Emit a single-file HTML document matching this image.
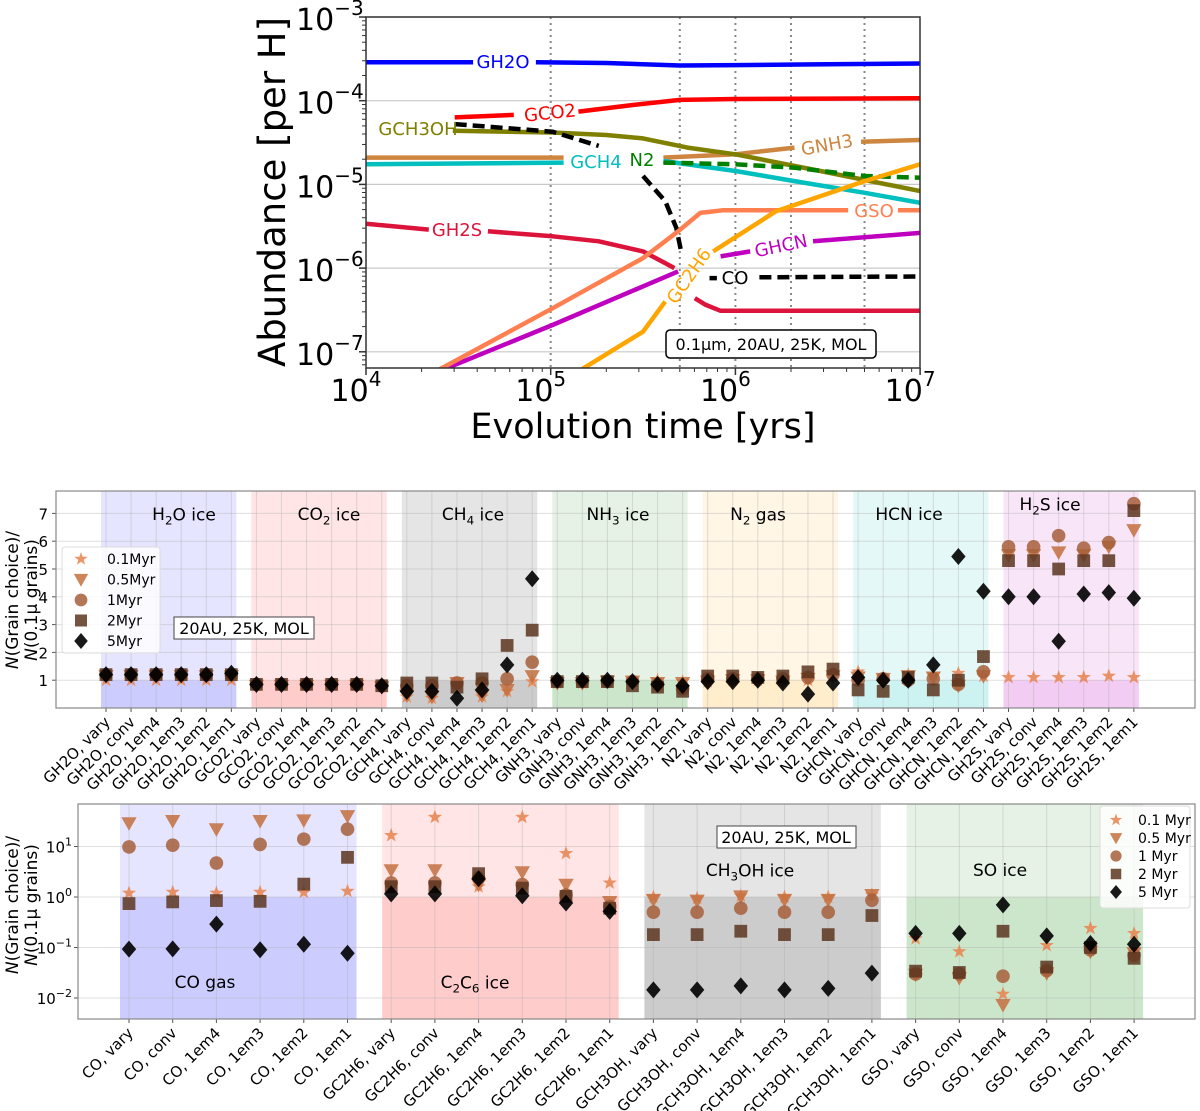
<!DOCTYPE html>
<html><head><meta charset="utf-8"><title>Grain size abundance comparison</title>
<style>
html,body{margin:0;padding:0;background:#fff;}
svg{display:block;font-family:"DejaVu Sans","Liberation Sans",sans-serif;}
</style></head>
<body>
<svg id="fig" width="1200" height="1111" viewBox="0 0 1200 1111" xmlns="http://www.w3.org/2000/svg"></svg>
<script>
// ---------------- TOP CHART DATA (log10 time, log10 abundance; null = label gap) ----------------
const topGH2O = [[4,-3.54],[4.58,-3.54],null,[4.92,-3.54],[5.3,-3.55],[5.7,-3.58],[6,-3.575],[6.5,-3.565],[7,-3.555]];
const topGCO2 = [[4.48,-4.2],[4.8,-4.17],null,[5.15,-4.13],[5.45,-4.05],[5.7,-3.99],[6,-3.98],[6.5,-3.975],[7,-3.97]];
const topGCH3OH = [[4.47,-4.36],[5.01,-4.38],[5.3,-4.41],[5.5,-4.45],[5.74,-4.56],[6,-4.64],[6.46,-4.84],[7,-5.08]];
const topCO = [[4.48,-4.28],[5.01,-4.37],[5.26,-4.54],null,[5.5,-4.9],[5.62,-5.2],[5.68,-5.52],[5.71,-5.84],null,[5.86,-6.12],[5.9,-6.12],null,[6.13,-6.11],[6.5,-6.105],[7,-6.1]];
const topGNH3 = [[4,-4.68],[5.07,-4.68],null,[5.61,-4.68],[6,-4.64],[6.32,-4.56],null,[6.68,-4.49],[7,-4.47]];
const topGCH4 = [[4,-4.76],[5.07,-4.74],null,[5.61,-4.72],[6,-4.84],[6.32,-4.96],[6.7,-5.1],[7,-5.22]];
const topN2 = [[5.61,-4.74],[6,-4.76],[6.32,-4.8],[6.7,-4.9],[7,-4.92]];
const topGSO = [[4.39,-7.22],[5.01,-6.48],[5.5,-5.88],[5.69,-5.56],[5.81,-5.34],[5.93,-5.31],[6.61,-5.31],null,[6.88,-5.31],[7,-5.31]];
const topGHCN = [[4.41,-7.22],[5.01,-6.68],[5.69,-6.04],null,[5.92,-5.86],[6.08,-5.8],null,[6.42,-5.68],[7,-5.58]];
const topGC2H6 = [[5.16,-7.22],[5.5,-6.76],[5.62,-6.4],null,[5.88,-5.8],[6.22,-5.32],[6.7,-4.96],[7,-4.76]];
const topGH2S = [[4,-5.47],[4.34,-5.54],null,[4.66,-5.56],[5.01,-5.62],[5.26,-5.68],[5.5,-5.8],[5.62,-5.94],[5.67,-6.0],null,[5.78,-6.36],[5.84,-6.44],[5.92,-6.51],[7,-6.51]];
const topVLines = [5, 5.699, 6, 6.301, 6.699];

// ---------------- MIDDLE CHART DATA ----------------
const midCats = ["GH2O, vary","GH2O, conv","GH2O, 1em4","GH2O, 1em3","GH2O, 1em2","GH2O, 1em1",
"GCO2, vary","GCO2, conv","GCO2, 1em4","GCO2, 1em3","GCO2, 1em2","GCO2, 1em1",
"GCH4, vary","GCH4, conv","GCH4, 1em4","GCH4, 1em3","GCH4, 1em2","GCH4, 1em1",
"GNH3, vary","GNH3, conv","GNH3, 1em4","GNH3, 1em3","GNH3, 1em2","GNH3, 1em1",
"N2, vary","N2, conv","N2, 1em4","N2, 1em3","N2, 1em2","N2, 1em1",
"GHCN, vary","GHCN, conv","GHCN, 1em4","GHCN, 1em3","GHCN, 1em2","GHCN, 1em1",
"GH2S, vary","GH2S, conv","GH2S, 1em4","GH2S, 1em3","GH2S, 1em2","GH2S, 1em1"];
const midStar = [1,1,1,1,1,1, .85,.85,.85,.85,.85,.8, .4,.35,.8,.4,.6,.95, .9,.9,.95,1.0,1.0,.95, .95,1.0,1.0,1.0,1.0,1.2, 1.3,1.1,1.2,1.2,1.25,1.15, 1.1,1.1,1.1,1.1,1.15,1.1];
const midTri = [1.15,1.15,1.15,1.15,1.15,1.15, .8,.8,.8,.8,.8,.75, .45,.4,.9,.45,.65,1.15, .9,.9,.95,.95,.9,.9, .95,1.0,1.0,.95,1.05,1.15, 1.1,1.05,1.15,1.1,.8,1.15, 5.5,5.5,5.6,5.5,5.8,6.4];
const midCirc = [1.2,1.2,1.2,1.2,1.2,1.2, .85,.85,.85,.85,.85,.8, .8,.8,.9,.9,1.05,1.65, .95,.95,.95,.95,.85,.7, 1.05,1.05,1.05,1.05,1.1,1.2, 1.0,1.05,1.0,1.05,.85,1.3, 5.8,5.8,6.2,5.75,5.95,7.35];
const midSq = [1.2,1.2,1.2,1.2,1.2,1.2, .85,.85,.85,.85,.85,.8, .9,.9,.75,1.05,2.25,2.8, .95,.95,.95,.8,.75,.6, 1.15,1.15,1.1,1.15,1.3,1.4, .65,.6,1.1,.65,1.0,1.85, 5.3,5.3,5.0,5.3,5.3,7.1];
const midDia = [1.2,1.2,1.2,1.2,1.2,1.25, .85,.85,.85,.85,.85,.8, .6,.6,.35,.65,1.55,4.65, 1.0,1.0,1.0,.95,.85,.8, .95,.95,1.0,.9,.5,.9, 1.1,1.0,1.0,1.55,5.45,4.2, 4.0,4.0,2.4,4.1,4.15,3.95];
const midTicks = [1,2,3,4,5,6,7];
const midLegend = ["0.1Myr","0.5Myr","1Myr","2Myr","5Myr"];

// ---------------- BOTTOM CHART DATA ----------------
const botCats = ["CO, vary","CO, conv","CO, 1em4","CO, 1em3","CO, 1em2","CO, 1em1",
"GC2H6, vary","GC2H6, conv","GC2H6, 1em4","GC2H6, 1em3","GC2H6, 1em2","GC2H6, 1em1",
"GCH3OH, vary","GCH3OH, conv","GCH3OH, 1em4","GCH3OH, 1em3","GCH3OH, 1em2","GCH3OH, 1em1",
"GSO, vary","GSO, conv","GSO, 1em4","GSO, 1em3","GSO, 1em2","GSO, 1em1"];
const botStar = [1.2,1.25,1.2,1.25,1.24,1.3, 16.6,38,1.6,38,7.3,1.9, 1.0,0.95,1.05,1.0,1.0,1.1, 0.15,0.083,0.012,0.11,0.24,0.19];
const botTri = [29,32,22,32,33,40, 3.4,3.4,1.75,3.1,1.75,0.8, 0.88,0.85,1.03,0.88,0.88,1.1, 0.029,0.025,0.0073,0.031,0.083,0.077];
const botCirc = [9.8,10.6,4.7,11,14,22, 1.9,1.9,2.4,1.76,1.1,0.65, 0.5,0.5,0.6,0.5,0.5,0.86, 0.03,0.03,0.027,0.035,0.09,0.07];
const botSq = [0.74,0.8,0.85,0.82,1.8,6.1, 1.6,1.6,2.9,1.5,1.03,0.6, 0.18,0.18,0.21,0.18,0.18,0.43, 0.034,0.032,0.21,0.041,0.1,0.061];
const botDia = [0.093,0.094,0.29,0.09,0.116,0.077, 1.15,1.15,2.3,1.06,0.76,0.52, 0.0145,0.0145,0.0174,0.0145,0.0155,0.031, 0.19,0.19,0.7,0.17,0.12,0.116];
const botTicks = [1,0,-1,-2];
const botLegend = ["0.1 Myr","0.5 Myr","1 Myr","2 Myr","5 Myr"];

const NS = "http://www.w3.org/2000/svg";
const svg = document.getElementById("fig");
function mk(tag, attrs, parent) {
  const e = document.createElementNS(NS, tag);
  for (const k in attrs) e.setAttribute(k, attrs[k]);
  (parent || svg).appendChild(e);
  return e;
}
function txt(parent, x, y, s, size, anchor, fill, extra) {
  const t = mk("text", Object.assign({x:x, y:y, "font-size":size, "text-anchor":anchor||"start", fill:fill||"#000"}, extra||{}), parent);
  t.textContent = s;
  return t;
}
function sup(t, s, size) {
  const ts = mk("tspan", {"font-size":size, dy:-size*0.75}, t);
  ts.textContent = s;
}

// ================= TOP CHART =================
const TX0 = 366, TDEC = 184.7, TY0 = 17, TYD = 83.7;
const tx = lt => TX0 + (lt - 4) * TDEC;
const ty = la => TY0 + (-3 - la) * TYD;
const TBOT = 368, TRIGHT = 920;
const topG = mk("g", {});


const clipT = mk("clipPath", {id:"clipTop"});
mk("rect", {x:TX0, y:TY0, width:TRIGHT-TX0, height:TBOT-TY0}, clipT);
for (let d = -3; d >= -7; d--) {
  const gl = mk("line", {x1:TX0, x2:TRIGHT, y1:ty(d), y2:ty(d), stroke:"#c8c8c8", "stroke-width":1.2}, topG);
  
  
}
topVLines.forEach(v => {
  const l = mk("line", {x1:tx(v), x2:tx(v), y1:TY0, y2:TBOT, stroke:"#888", "stroke-width":2, "stroke-dasharray":"2,4"}, topG);
  
  
});
const curves = [
  [topGH2O, "#0000ff", null, "gh2o-curve"],
  [topGCO2, "#ff0000", null, "gco2-curve"],
  [topGNH3, "#cd853f", null, "gnh3-curve"],
  [topGCH4, "#00bfbf", null, "gch4-curve"],
  [topGCH3OH, "#808000", null, "gch3oh-curve"],
  [topN2, "#008000", "12,6", "n2-curve"],
  [topCO, "#000000", "12,6", "co-curve"],
  [topGH2S, "#dc143c", null, "gh2s-curve"],
  [topGHCN, "#bf00bf", null, "ghcn-curve"],
  [topGSO, "#ff7f50", null, "gso-curve"],
  [topGC2H6, "#ffa500", null, "gc2h6-curve"]
];
curves.forEach(c => {
  let d = "", start = true;
  c[0].forEach(p => {
    if (p === null) { start = true; return; }
    d += (start ? "M" : "L") + tx(p[0]).toFixed(1) + "," + ty(p[1]).toFixed(1);
    start = false;
  });
  const a = {d:d, fill:"none", stroke:c[1], "stroke-width":4.5, "clip-path":"url(#clipTop)", "stroke-linejoin":"round"};
  if (c[2]) a["stroke-dasharray"] = c[2];
  const p = mk("path", a, topG);
  
  
});
const curveLabels = [
  ["GH2O", 503, 68, "#0000ff", 0, "gh2o-label"],
  ["GCO2", 550, 119, "#ff0000", -6, "gco2-label"],
  ["GCH3OH", 418, 135, "#808000", 0, "gch3oh-label"],
  ["GCH4", 596, 168, "#00bfbf", 0, "gch4-label"],
  ["N2", 642, 166, "#008000", 0, "n2-label"],
  ["GNH3", 827, 151, "#cd853f", -10, "gnh3-label"],
  ["GSO", 874, 217, "#ff7f50", 0, "gso-label"],
  ["GHCN", 781, 252, "#bf00bf", -12, "ghcn-label"],
  ["GC2H6", 689, 282, "#ffa500", -55, "gc2h6-label"],
  ["CO", 735, 284, "#000", 0, "co-label"],
  ["GH2S", 457, 236, "#dc143c", 0, "gh2s-label"]
];
curveLabels.forEach(l => {
  const t = txt(topG, l[1], l[2], l[0], 18, "middle", l[3], {transform:"rotate(" + l[4] + " " + l[1] + " " + (l[2]-6) + ")"});
  
  
});
const ib = mk("rect", {x:666, y:330, width:210, height:28, rx:4, fill:"#fff", stroke:"#000", "stroke-width":1.5}, topG);


const ibt = txt(topG, 771, 350, "0.1μm, 20AU, 25K, MOL", 16, "middle");


mk("rect", {x:TX0, y:TY0, width:TRIGHT-TX0, height:TBOT-TY0, fill:"none", stroke:"#333", "stroke-width":1.5}, topG);
for (let d = -3; d >= -7; d--) {
  mk("line", {x1:TX0-7, x2:TX0, y1:ty(d), y2:ty(d), stroke:"#333", "stroke-width":1.5}, topG);
  const t = txt(topG, 296, ty(d)+13, "10", 30, "start");
  sup(t, "−" + (-d), 20);
  
  
  for (let m = 2; m <= 9; m++) {
    const yy = ty(d - 1 + Math.log10(m));
    if (yy < TBOT) mk("line", {x1:TX0-4, x2:TX0, y1:yy, y2:yy, stroke:"#333", "stroke-width":1}, topG);
  }
}
for (let e = 4; e <= 7; e++) {
  mk("line", {x1:tx(e), x2:tx(e), y1:TBOT, y2:TBOT+7, stroke:"#333", "stroke-width":1.5}, topG);
  const t = txt(topG, tx(e)-10, TBOT+33, "10", 30, "middle");
  sup(t, String(e), 20);
  
  
  if (e < 7) for (let m = 2; m <= 9; m++) {
    const xx = tx(e + Math.log10(m));
    mk("line", {x1:xx, x2:xx, y1:TBOT, y2:TBOT+4, stroke:"#333", "stroke-width":1}, topG);
  }
}
const ytt = txt(topG, 285, 192, "Abundance [per H]", 37, "middle", "#000", {transform:"rotate(-90 285 192)"});


const xtt = txt(topG, 643, 438, "Evolution time [yrs]", 35, "middle");



// ================= MARKERS =================
const mColors = ["#e8834e", "#c4703f", "#a65f3b", "#5c3520", "#000000"];
function marker(g, type, x, y, s, color) {
  let e;
  if (type === 0) {
    let d = "";
    for (let i = 0; i < 10; i++) {
      const r = i % 2 ? s*0.4 : s;
      const a = -Math.PI/2 + i*Math.PI/5;
      d += (i ? "L" : "M") + (x + r*Math.cos(a)).toFixed(1) + "," + (y + r*Math.sin(a)).toFixed(1);
    }
    e = mk("path", {d:d+"Z", fill:color, opacity:0.85}, g);
  } else if (type === 1) {
    e = mk("path", {d:`M${x-s*0.9},${y-s*0.7}L${x+s*0.9},${y-s*0.7}L${x},${y+s*0.9}Z`, fill:color, opacity:0.85}, g);
  } else if (type === 2) {
    e = mk("circle", {cx:x, cy:y, r:s*0.8, fill:color, opacity:0.85}, g);
  } else if (type === 3) {
    e = mk("rect", {x:x-s*0.75, y:y-s*0.75, width:s*1.5, height:s*1.5, fill:color, opacity:0.85}, g);
  } else {
    e = mk("path", {d:`M${x},${y-s}L${x+s*0.85},${y}L${x},${y+s}L${x-s*0.85},${y}Z`, fill:color, opacity:0.9}, g);
  }
  return e;
}
function sub(parent, x, y, parts, size, anchor) {
  const t = mk("text", {x:x, y:y, "font-size":size, "text-anchor":anchor||"middle"}, parent);
  parts.forEach(p => {
    const ts = mk("tspan", p[1] ? {"font-size":size*0.7, dy:size*0.25} : {dy:p[2]||0}, t);
    ts.textContent = p[0];
  });
  return t;
}
function ytitle(parent, cx, cy, name) {
  const t = mk("text", {x:0, y:0, "font-size":17, "text-anchor":"middle", transform:`translate(${cx} ${cy}) rotate(-90)`}, parent);
  
  
  const a = mk("tspan", {x:0, dy:0, "font-style":"italic"}, t); a.textContent = "N";
  const b = mk("tspan", {}, t); b.textContent = "(Grain choice)/";
  const c = mk("tspan", {x:0, dy:19, "font-style":"italic"}, t); c.textContent = "N";
  const d = mk("tspan", {}, t); d.textContent = "(0.1μ grains)";
}

// ================= MIDDLE CHART =================
const MX0 = 56, MRIGHT = 1195, MTOP = 491, MBOT = 708, MC0 = 106, MSTEP = 25.07, MUNIT = 27.8;
const mx = i => MC0 + i*MSTEP;
const my = v => MBOT - v*MUNIT;
const midG = mk("g", {});


const midGroups = [
  ["#0000ff", [["H"],["2",1],["O ice",0,-4]], 184, 520, "h2o-ice"],
  ["#ff0000", [["CO"],["2",1],[" ice",0,-4]], 329, 520, "co2-ice"],
  ["#000000", [["CH"],["4",1],[" ice",0,-4]], 473, 520, "ch4-ice"],
  ["#008000", [["NH"],["3",1],[" ice",0,-4]], 618, 520, "nh3-ice"],
  ["#ffa500", [["N"],["2",1],[" gas",0,-4]], 758, 520, "n2-gas"],
  ["#00bfbf", [["HCN ice"]], 909, 520, "hcn-ice"],
  ["#bf00bf", [["H"],["2",1],["S ice",0,-4]], 1050, 510, "h2s-ice"]
];
midGroups.forEach((g, k) => {
  const x1 = mx(k*6) - 5, x2 = mx(k*6+5) + 5;
  const r1 = mk("rect", {x:x1, y:MTOP, width:x2-x1, height:my(1)-MTOP, fill:g[0], "fill-opacity":0.1}, midG);
  
  
  const r2 = mk("rect", {x:x1, y:my(1), width:x2-x1, height:MBOT-my(1), fill:g[0], "fill-opacity":0.2}, midG);
  
  
});
midTicks.forEach(v => {
  mk("line", {x1:MX0, x2:MRIGHT, y1:my(v), y2:my(v), stroke:"#b0b0b0", "stroke-opacity":0.4, "stroke-width":1}, midG);
  mk("line", {x1:MX0-4, x2:MX0, y1:my(v), y2:my(v), stroke:"#555"}, midG);
  const t = txt(midG, MX0-8, my(v)+6, String(v), 15, "end");
  
  
});
midCats.forEach((c, i) => {
  mk("line", {x1:mx(i), x2:mx(i), y1:MTOP, y2:MBOT, stroke:"#b0b0b0", "stroke-opacity":0.4}, midG);
  mk("line", {x1:mx(i), x2:mx(i), y1:MBOT, y2:MBOT+4, stroke:"#555"}, midG);
  const t = txt(midG, mx(i)+5, MBOT+15, c, 15, "end", "#000", {transform:`rotate(-45 ${mx(i)+5} ${MBOT+15})`});
  
  
});
midGroups.forEach(g => {
  const t = sub(midG, g[2], g[3], g[1], 17);
  
  
});
[midStar, midTri, midCirc, midSq, midDia].forEach((arr, s) => {
  arr.forEach((v, i) => {
    const m = marker(midG, s, mx(i), my(v), s === 0 ? 7.5 : 8.5, mColors[s]);
    
    
  });
});
mk("rect", {x:MX0, y:MTOP, width:MRIGHT-MX0, height:MBOT-MTOP, fill:"none", stroke:"#888", "stroke-width":1.2}, midG);
const ml = mk("g", {});


mk("rect", {x:62, y:547, width:98, height:106, rx:3, fill:"#fff", "fill-opacity":0.8, stroke:"#ddd"}, ml);
midLegend.forEach((s, k) => {
  const y = 559 + k*20.5;
  marker(ml, k, 81, y, k === 0 ? 7 : 8, mColors[k]);
  const t = txt(ml, 107, y+5, s, 14, "start");
  
  
});
const mb = mk("rect", {x:174, y:617, width:140, height:22, fill:"#fff", stroke:"#444"}, midG);


txt(midG, 244, 634, "20AU, 25K, MOL", 16, "middle");
ytitle(midG, 18, 600, 'y-axis-title-middle');

// ================= BOTTOM CHART =================
const BX0 = 78, BRIGHT = 1195, BTOP = 804, BBOT = 1019, BC0 = 129, BSTEP = 43.7, BDEC = 50.5, BY0 = 897;
const bx = i => BC0 + i*BSTEP;
const by = v => BY0 - Math.log10(v)*BDEC;
const botG = mk("g", {});


const botGroups = [
  ["#0000ff", [["CO gas"]], 205, 988, "co-gas"],
  ["#ff0000", [["C"],["2",1],["C",0,-4],["6",1],[" ice",0,-4]], 475, 988, "c2h6-ice"],
  ["#000000", [["CH"],["3",1],["OH ice",0,-4]], 750, 876, "ch3oh-ice"],
  ["#008000", [["SO ice"]], 1000, 876, "so-ice"]
];
botGroups.forEach((g, k) => {
  const x1 = bx(k*6) - 9, x2 = bx(k*6+5) + 9;
  const r1 = mk("rect", {x:x1, y:BTOP, width:x2-x1, height:BY0-BTOP, fill:g[0], "fill-opacity":0.1}, botG);
  
  
  const r2 = mk("rect", {x:x1, y:BY0, width:x2-x1, height:BBOT-BY0, fill:g[0], "fill-opacity":0.2}, botG);
  
  
});
botTicks.forEach(e => {
  const y = by(Math.pow(10, e));
  mk("line", {x1:BX0, x2:BRIGHT, y1:y, y2:y, stroke:"#b0b0b0", "stroke-opacity":0.4}, botG);
  mk("line", {x1:BX0-4, x2:BX0, y1:y, y2:y, stroke:"#555"}, botG);
  const t = txt(botG, BX0-6, y+6, "10", 15, "end");
  const s = mk("tspan", {"font-size":11, dy:-7}, t); s.textContent = e < 0 ? "−" + (-e) : String(e);
  
  
});
botCats.forEach((c, i) => {
  mk("line", {x1:bx(i), x2:bx(i), y1:BTOP, y2:BBOT, stroke:"#b0b0b0", "stroke-opacity":0.4}, botG);
  mk("line", {x1:bx(i), x2:bx(i), y1:BBOT, y2:BBOT+4, stroke:"#555"}, botG);
  const t = txt(botG, bx(i)+5, BBOT+15, c, 15, "end", "#000", {transform:`rotate(-45 ${bx(i)+5} ${BBOT+15})`});
  
  
});
botGroups.forEach(g => {
  const t = sub(botG, g[2], g[3], g[1], 17);
  
  
});
[botStar, botTri, botCirc, botSq, botDia].forEach((arr, s) => {
  arr.forEach((v, i) => {
    const m = marker(botG, s, bx(i), by(v), s === 0 ? 7.5 : 8.5, mColors[s]);
    
    
  });
});
mk("rect", {x:BX0, y:BTOP, width:BRIGHT-BX0, height:BBOT-BTOP, fill:"none", stroke:"#888", "stroke-width":1.2}, botG);
const bl = mk("g", {});


mk("rect", {x:1100, y:806, width:90, height:102, rx:3, fill:"#fff", "fill-opacity":0.8, stroke:"#ddd"}, bl);
botLegend.forEach((s, k) => {
  const y = 820 + k*18;
  marker(bl, k, 1116, y, k === 0 ? 6.5 : 7, mColors[k]);
  const t = txt(bl, 1138, y+5, s, 14, "start");
  
  
});
const bb = mk("rect", {x:717, y:826, width:139, height:22, fill:"#fff", stroke:"#444"}, botG);


txt(botG, 786, 843, "20AU, 25K, MOL", 16, "middle");
ytitle(botG, 18, 905, 'y-axis-title-bottom');
</script>
</body></html>
